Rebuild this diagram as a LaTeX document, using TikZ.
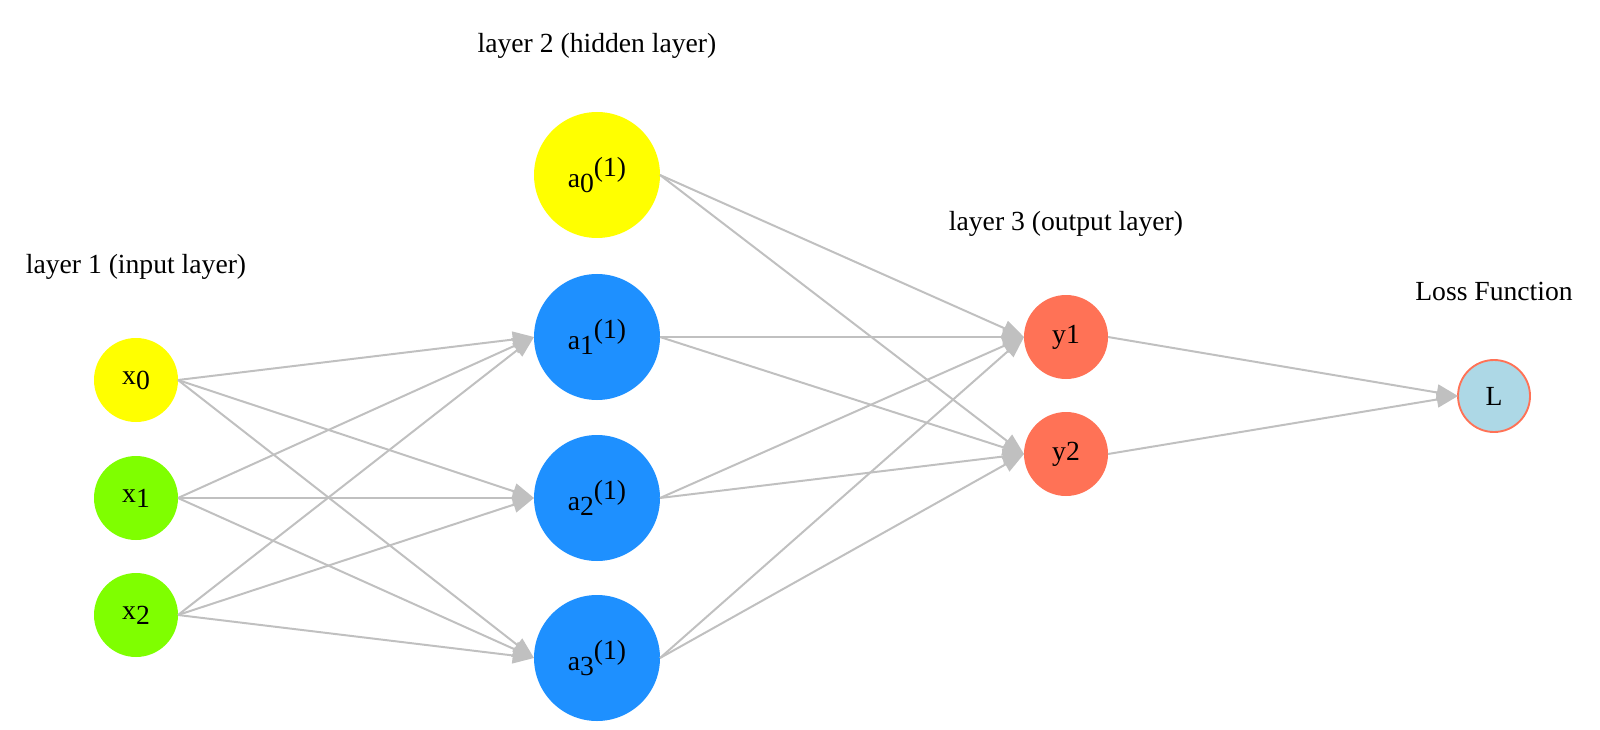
\documentclass[tikz,border=0pt]{standalone}
\usepackage{fontspec}
\setmainfont{Liberation Serif}
\usetikzlibrary{arrows.meta}
\tikzstyle{neuron} = [circle, inner sep=0pt, outer sep=0pt]
\tikzstyle{innode} = [neuron, minimum size=1.26cm]
\tikzstyle{hidnode} = [neuron, minimum size=1.89cm]
\tikzstyle{lossnode} = [neuron, minimum size=1.08cm, draw=outred, line width=0.8pt, fill=losslightblue]
\tikzstyle{conn} = [edgegray, line width=0.85pt, -{Triangle[length=0.32cm, width=0.24cm]}]
\definecolor{inyellow}{HTML}{FFFF00}
\definecolor{ingreen}{HTML}{7FFF00}
\definecolor{hidblue}{HTML}{1E90FF}
\definecolor{outred}{HTML}{FF7256}
\definecolor{losslightblue}{HTML}{ADD8E6}
\definecolor{edgegray}{HTML}{C0C0C0}
\newcommand{\subidx}[1]{\raisebox{-2pt}{#1}}
\newcommand{\supidx}[1]{\raisebox{4.5pt}{#1}}

\begin{document}
\begin{tikzpicture}[font=\fontsize{11.8}{14}\selectfont]
			\useasboundingbox (0,0) rectangle (24,10.935);
			% layer titles
			\node (title1) at (2.04,6.93) {layer 1 (input layer)};
			\node (title2) at (8.955,10.245) {layer 2 (hidden layer)};
			\node (title3) at (15.99,7.575) {layer 3 (output layer)};
			\node (title4) at (22.41,6.57) {Loss Function};
			% input layer
			\node[innode,fill=inyellow] (x0) at (2.04,5.235) {x\subidx{0}};
			\node[innode,fill=ingreen] (x1) at (2.04,3.465) {x\subidx{1}};
			\node[innode,fill=ingreen] (x2) at (2.04,1.71) {x\subidx{2}};
			% hidden layer
			\node[hidnode,fill=inyellow] (a0) at (8.955,8.31) {a\subidx{0}\supidx{(1)}};
			\node[hidnode,fill=hidblue] (a1) at (8.955,5.88) {a\subidx{1}\supidx{(1)}};
			\node[hidnode,fill=hidblue] (a2) at (8.955,3.465) {a\subidx{2}\supidx{(1)}};
			\node[hidnode,fill=hidblue] (a3) at (8.955,1.065) {a\subidx{3}\supidx{(1)}};
			% output layer
			\node[innode,fill=outred] (y1) at (15.99,5.88) {y1};
			\node[innode,fill=outred] (y2) at (15.99,4.125) {y2};
			% loss
			\node[lossnode] (L) at (22.41,4.995) {L};
			% connections
			\draw[conn] (x0.east) -- (a1.west);
			\draw[conn] (x0.east) -- (a2.west);
			\draw[conn] (x0.east) -- (a3.west);
			\draw[conn] (x1.east) -- (a1.west);
			\draw[conn] (x1.east) -- (a2.west);
			\draw[conn] (x1.east) -- (a3.west);
			\draw[conn] (x2.east) -- (a1.west);
			\draw[conn] (x2.east) -- (a2.west);
			\draw[conn] (x2.east) -- (a3.west);
			\draw[conn] (a0.east) -- (y1.west);
			\draw[conn] (a0.east) -- (y2.west);
			\draw[conn] (a1.east) -- (y1.west);
			\draw[conn] (a1.east) -- (y2.west);
			\draw[conn] (a2.east) -- (y1.west);
			\draw[conn] (a2.east) -- (y2.west);
			\draw[conn] (a3.east) -- (y1.west);
			\draw[conn] (a3.east) -- (y2.west);
			\draw[conn] (y1.east) -- (L.west);
			\draw[conn] (y2.east) -- (L.west);
		\end{tikzpicture}
\end{document}
